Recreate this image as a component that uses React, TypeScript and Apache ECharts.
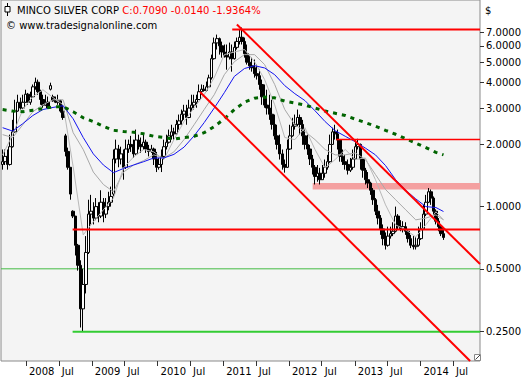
import React, { useEffect, useRef } from 'react';
import * as echarts from 'echarts';

const DAY = 86400000;
const FIRST_CANDLE = Date.UTC(2007, 7, 24);
const CANDLE_STEP_DAYS = 14;
const X_MIN = Date.UTC(2007, 7, 15);
const X_MAX = Date.UTC(2014, 10, 28);
const Y_MIN = 0.179;
const Y_MAX = 10;

const TITLE = 'MINCO SILVER CORP';
const QUOTE = 'C:0.7090 -0.0140 -1.9364%';
const SOURCE = '\u00a9 www.tradesignalonline.com';
const CURRENCY = '$';

const yTickValues = [0.25, 0.5, 1, 2, 3, 4, 5, 6, 7];
const xTickYears = [2008, 2009, 2010, 2011, 2012, 2013, 2014];

const opens = [
  1.60,1.65,1.75,1.60,1.95,2.30,2.90,3.20,3.00,3.20,
  3.50,3.20,3.40,3.80,4.00,3.60,3.30,3.10,3.20,3.70,
  3.40,3.25,3.20,3.25,2.90,2.20,1.85,1.55,0.95,0.90,
  0.65,0.52,0.32,0.42,0.60,0.92,0.95,0.88,1.00,0.90,
  1.05,0.92,1.00,1.05,1.15,1.70,1.90,1.70,1.80,1.55,
  1.90,2.00,1.95,1.80,2.10,2.00,1.95,2.05,1.90,1.85,
  1.90,1.70,1.55,1.60,1.75,1.95,2.05,2.20,2.30,2.25,
  2.50,2.60,2.80,2.90,2.70,3.00,3.10,3.20,3.30,3.60,
  3.70,3.65,3.80,4.20,5.20,6.20,6.50,6.00,5.60,5.40,
  5.30,5.60,5.20,5.90,6.30,6.60,6.30,5.50,5.00,4.80,
  4.70,4.40,4.30,3.90,3.40,3.10,3.00,2.80,2.50,2.20,
  2.00,1.80,1.60,1.55,1.90,2.20,2.45,2.50,2.70,2.50,
  2.20,2.00,1.90,1.70,1.55,1.40,1.45,1.35,1.45,1.55,
  1.65,2.00,2.30,2.25,2.10,1.75,1.65,1.60,1.50,1.55,
  1.70,1.95,2.00,1.70,1.50,1.35,1.30,1.20,1.08,0.95,
  0.88,0.78,0.70,0.65,0.72,0.74,0.76,0.90,0.80,0.78,
  0.80,0.76,0.70,0.65,0.64,0.65,0.70,0.78,0.92,1.05,
  1.18,1.10,0.95,0.85,0.80,0.74,
];
const closes = [
  1.65,1.75,1.60,1.95,2.30,2.90,3.20,3.00,3.20,3.50,
  3.20,3.40,3.80,4.00,3.60,3.30,3.10,3.20,3.00,3.85,
  3.25,3.20,3.25,2.90,2.70,1.85,1.55,1.15,0.90,0.65,
  0.52,0.32,0.42,0.60,0.92,0.95,0.88,1.00,0.90,1.05,
  0.92,1.00,1.05,1.12,1.70,1.90,1.70,1.80,1.55,1.90,
  2.00,1.95,1.80,2.10,2.00,1.95,2.05,1.90,1.85,1.90,
  1.70,1.55,1.60,1.75,1.95,2.05,2.20,2.30,2.25,2.50,
  2.60,2.80,2.90,2.70,3.00,3.10,3.20,3.30,3.60,3.70,
  3.65,3.80,4.20,5.20,6.20,6.50,6.00,5.60,5.40,5.30,
  5.60,5.20,5.90,6.30,6.60,6.30,5.50,5.00,4.80,4.70,
  4.40,4.30,3.90,3.40,3.10,3.00,2.80,2.50,2.20,2.00,
  1.80,1.60,1.55,1.90,2.20,2.45,2.50,2.70,2.50,2.20,
  2.00,1.90,1.70,1.55,1.40,1.45,1.35,1.45,1.55,1.65,
  2.00,2.30,2.25,2.10,1.75,1.65,1.60,1.50,1.55,1.70,
  1.95,2.00,1.70,1.50,1.35,1.30,1.20,1.08,0.95,0.88,
  0.78,0.70,0.65,0.72,0.74,0.76,0.90,0.80,0.78,0.80,
  0.76,0.70,0.65,0.64,0.65,0.70,0.78,0.92,1.05,1.18,
  1.10,0.95,0.85,0.80,0.74,0.709,
];
const lows = [
  1.51,1.59,1.51,1.58,1.93,2.28,2.88,2.95,2.98,3.18,
  3.11,3.11,3.38,3.68,3.48,3.11,3.01,3.08,2.98,3.65,
  3.22,3.17,3.11,2.85,2.63,1.75,1.51,1.08,0.88,0.58,
  0.49,0.26,0.25,0.38,0.59,0.82,0.82,0.86,0.84,0.88,
  0.84,0.88,0.96,1.00,1.12,1.62,1.55,1.60,1.35,1.52,
  1.82,1.84,1.72,1.78,1.89,1.82,1.88,1.82,1.75,1.82,
  1.59,1.47,1.51,1.47,1.69,1.89,2.02,2.11,2.11,2.23,
  2.36,2.49,2.63,2.49,2.68,2.88,2.95,3.01,3.28,3.48,
  3.60,3.60,3.78,4.12,5.15,5.76,5.44,5.26,5.26,4.60,
  5.15,4.50,5.15,5.76,6.09,6.09,5.26,4.87,4.60,4.50,
  4.21,4.12,3.68,3.11,3.01,2.79,2.63,2.36,2.11,1.89,
  1.69,1.51,1.46,1.54,1.88,2.18,2.36,2.45,2.23,1.99,
  1.89,1.78,1.59,1.43,1.28,1.32,1.28,1.35,1.38,1.51,
  1.63,1.99,2.11,1.89,1.65,1.59,1.51,1.43,1.47,1.51,
  1.69,1.89,1.51,1.38,1.28,1.23,1.14,1.02,0.91,0.82,
  0.73,0.65,0.62,0.64,0.70,0.72,0.75,0.77,0.76,0.75,
  0.73,0.67,0.63,0.62,0.62,0.64,0.69,0.77,0.90,1.04,
  1.02,0.91,0.82,0.76,0.72,0.69,
];
const highs = [
  1.89,1.89,1.89,2.23,2.63,3.29,3.48,3.37,3.48,3.68,
  3.55,3.60,3.90,4.21,4.12,3.68,3.48,3.48,3.41,3.98,
  3.48,3.41,3.48,3.29,3.11,2.25,1.93,1.55,0.96,0.90,
  0.66,0.55,0.50,0.72,1.08,1.14,1.05,1.10,1.05,1.20,
  1.10,1.10,1.18,1.25,1.89,2.11,1.99,1.95,1.89,2.11,
  2.11,2.20,2.11,2.36,2.23,2.16,2.23,2.11,1.99,1.99,
  1.93,1.84,1.72,1.89,2.11,2.23,2.36,2.49,2.41,2.63,
  2.79,2.95,3.11,3.11,3.29,3.48,3.48,3.48,3.90,3.90,
  3.88,4.03,4.35,5.44,6.58,6.80,6.58,6.29,6.09,6.09,
  6.22,6.09,6.29,6.58,7.19,7.36,6.58,6.09,5.44,5.26,
  5.15,4.87,4.60,4.12,3.90,3.68,3.48,3.29,2.79,2.49,
  2.23,1.89,1.69,2.11,2.49,2.69,2.79,2.95,2.79,2.63,
  2.36,2.23,1.99,1.78,1.59,1.59,1.54,1.59,1.69,1.78,
  2.23,2.41,2.49,2.36,2.11,1.89,1.78,1.69,1.72,1.89,
  2.11,2.13,2.02,1.72,1.54,1.47,1.32,1.23,1.10,1.02,
  0.91,0.82,0.75,0.80,0.80,0.84,1.00,0.92,0.86,0.85,
  0.84,0.78,0.73,0.72,0.71,0.80,0.84,1.02,1.14,1.23,
  1.21,1.12,0.97,0.88,0.82,0.77,
];

// moving averages, read at every 4th candle (and the last one)
const maCandleIndex = [
  0,4,8,12,16,20,24,28,32,36,40,44,48,52,56,60,64,68,72,76,80,84,
  88,92,96,100,104,108,112,116,120,124,128,132,136,140,144,148,152,156,160,164,168,172,175,
];
const maShort = [
  1.78,2.23,2.95,3.41,3.68,3.37,3.11,1.56,0.73,0.844,0.965,1.10,1.54,1.74,1.89,1.84,1.69,2.11,2.58,3.01,3.48,4.21,
  5.44,5.60,5.76,5.03,4.12,3.11,2.16,2.11,2.41,1.89,1.54,1.69,1.89,1.69,1.72,1.35,1.02,0.816,0.772,0.714,0.816,0.944,0.863,
];
const maMedium = [
  2.23,2.16,2.49,2.88,3.11,3.29,3.29,2.28,1.89,1.47,1.28,1.18,1.47,1.59,1.67,1.78,1.72,1.84,2.11,2.49,2.95,3.48,
  4.35,5.03,5.44,5.44,4.87,3.90,2.95,2.49,2.31,2.11,1.89,1.78,1.78,1.82,1.69,1.43,1.21,1.08,0.965,0.863,0.88,0.912,0.863,
];
const maBlue = [
  2.41,2.32,2.52,2.76,2.95,3.02,3.08,2.66,2.16,1.80,1.59,1.46,1.53,1.59,1.65,1.72,1.72,1.79,1.94,2.20,2.55,3.00,
  3.56,4.27,4.66,4.81,4.69,4.35,3.85,3.52,3.26,2.91,2.58,2.33,2.19,2.06,1.92,1.78,1.58,1.35,1.20,1.09,1.00,0.99,0.947,
];
const maLong = [
  2.95,2.90,2.88,2.93,2.98,3.04,3.04,2.88,2.69,2.58,2.45,2.34,2.31,2.29,2.25,2.19,2.16,2.12,2.16,2.19,2.28,2.44,
  2.66,2.95,3.20,3.35,3.39,3.36,3.24,3.17,3.10,3.00,2.90,2.83,2.76,2.65,2.55,2.45,2.34,2.24,2.13,2.03,1.93,1.83,1.78,
];

// drawn levels and trend lines
const level7 = { value: 7.2, from: Date.UTC(2011, 1, 20) };
const level2 = { value: 2.11, from: Date.UTC(2012, 8, 20) };
const levelBand = { low: 1.21, high: 1.30, from: Date.UTC(2012, 4, 12) };
const level078 = { value: 0.775, from: Date.UTC(2008, 8, 16) };
const level05 = { value: 0.5, from: X_MIN };
const level025 = { value: 0.248, from: Date.UTC(2008, 8, 16) };
const trendUpper = [[Date.UTC(2011, 2, 18), 7.61], [X_MAX, 0.528]];
const trendLower = [[Date.UTC(2010, 7, 25), 3.59], [Date.UTC(2014, 9, 4), 0.179]];

const FONT = 'DejaVu Sans';

export default function App() {
  const ref = useRef<HTMLDivElement>(null);
  useEffect(() => {
    if (!ref.current) return;
    const chart = echarts.init(ref.current, null, { renderer: 'svg' });
    const dates = opens.map((_, i) => FIRST_CANDLE + i * CANDLE_STEP_DAYS * DAY);
    const candleData = opens.map((o, i) => [dates[i], o, closes[i], lows[i], highs[i]]);
    const maData = (arr: number[]) => maCandleIndex.map((idx, k) => [dates[idx], arr[k]]);
    const xTicks: number[] = [];
    xTickYears.forEach((y) => { xTicks.push(Date.UTC(y, 0, 1)); xTicks.push(Date.UTC(y, 6, 1)); });
    const hLine = (from: number, v: number) => [[from, v], [X_MAX, v]];
    const lineSeries = (data: any, color: string, width: number, extra: any = {}) => ({
      type: 'line', data, symbol: 'none', silent: true, smooth: false,
      lineStyle: { color, width, ...extra }, z: 3,
    });

    chart.setOption({
      animation: false,
      backgroundColor: '#ffffff',
      textStyle: { fontFamily: FONT },
      grid: {
        left: 1, right: 42.5, top: -1, bottom: 19, show: true,
        backgroundColor: '#f4f4f4', borderColor: '#8a8a8a', borderWidth: 1,
      },
      xAxis: {
        type: 'value', min: X_MIN, max: X_MAX,
        axisLine: { show: false }, splitLine: { show: false },
        axisTick: { show: true, customValues: xTicks, length: 5, lineStyle: { color: '#333' } },
        axisLabel: {
          customValues: xTicks, align: 'left', margin: 5, fontSize: 10, color: '#000',
          fontFamily: FONT, padding: [0, 0, 0, 3],
          formatter: (v: number) => {
            const d = new Date(v);
            return d.getUTCMonth() === 0 ? String(d.getUTCFullYear()) : 'Jul';
          },
        },
      },
      yAxis: {
        type: 'log', logBase: 10, position: 'right', min: Y_MIN, max: Y_MAX,
        axisLine: { show: false }, splitLine: { show: false },
        axisTick: { show: true, customValues: yTickValues, length: 4, lineStyle: { color: '#333' } },
        axisLabel: {
          customValues: yTickValues, margin: 6, fontSize: 10, color: '#000', fontFamily: FONT,
          formatter: (v: number) => Number(v).toFixed(4),
        },
      },
      graphic: [
        { type: 'line', shape: { x1: 7.5, y1: 3, x2: 7.5, y2: 16 }, style: { stroke: '#000', lineWidth: 1 } },
        { type: 'rect', shape: { x: 5, y: 6.5, width: 5, height: 5.5 }, style: { fill: '#fff', stroke: '#000', lineWidth: 1 } },
        {
          type: 'text', x: 17, y: 10,
          style: {
            text: `{a|${TITLE}} {b|${QUOTE}}`, verticalAlign: 'middle',
            rich: {
              a: { fontFamily: FONT, fontSize: 10, fill: '#000' },
              b: { fontFamily: FONT, fontSize: 10, fill: '#ff0000' },
            },
          },
        },
        { type: 'text', x: 6, y: 25, style: { text: SOURCE, fontFamily: FONT, fontSize: 10, fill: '#000', verticalAlign: 'middle' } },
        { type: 'text', x: 485, y: 10, style: { text: CURRENCY, fontFamily: FONT, fontSize: 10, fill: '#000', verticalAlign: 'middle' } },
        { type: 'rect', shape: { x: 474.5, y: 354.5, width: 6, height: 6 }, style: { fill: '#fff', stroke: '#888', lineWidth: 1 } },
        { type: 'line', shape: { x1: 475.5, y1: 359.5, x2: 480, y2: 355 }, style: { stroke: '#444', lineWidth: 1 } },
      ],
      series: [
        {
          ...lineSeries(hLine(level05.from, level05.value), '#44bb44', 1),
          z: 1,
          markArea: {
            silent: true, itemStyle: { color: '#f4a0a0' },
            data: [[{ coord: [levelBand.from, levelBand.low] }, { coord: [X_MAX, levelBand.high] }]],
          },
        },
        {
          type: 'candlestick', data: candleData, barWidth: 3, z: 2,
          itemStyle: { color: '#ffffff', color0: '#000000', borderColor: '#000000', borderColor0: '#000000', borderWidth: 1 },
        },
        lineSeries(maData(maMedium), '#a8a8a8', 1, {}),
        lineSeries(maData(maShort), '#b8b8b8', 1, {}),
        lineSeries(maData(maBlue), '#1414f0', 1, {}),
        lineSeries(maData(maLong), '#006400', 3, { type: [4, 5] }),
        lineSeries(hLine(level7.from, level7.value), '#ff0000', 2),
        lineSeries(hLine(level2.from, level2.value), '#ff0000', 1.5),
        lineSeries(hLine(level078.from, level078.value), '#ff0000', 2),
        lineSeries(hLine(level025.from, level025.value), '#33cc33', 2),
        lineSeries(trendUpper, '#ff0000', 2),
        lineSeries(trendLower, '#ff0000', 2),
      ],
    });
    return () => chart.dispose();
  }, []);
  return <div ref={ref} style={{ position: 'absolute', left: 0, top: 0, width: 524, height: 380 }} />;
}
